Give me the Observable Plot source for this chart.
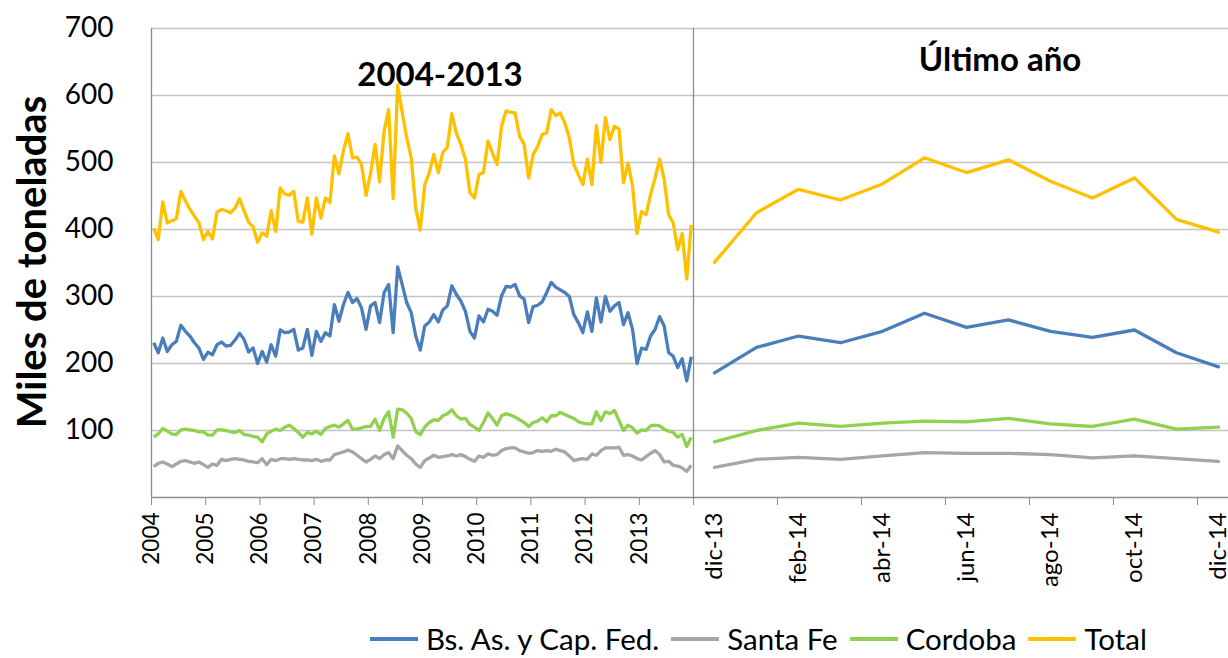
<!DOCTYPE html>
<html>
<head>
<meta charset="utf-8">
<script src="https://cdn.jsdelivr.net/npm/d3@7"></script>
<script src="https://cdn.jsdelivr.net/npm/@observablehq/plot@0.6"></script>
<style>
  html, body { margin: 0; padding: 0; background: #fff; overflow: hidden; }
  #wrap { position: relative; width: 1228px; height: 658px; overflow: hidden; font-family: Lato, "Open Sans", sans-serif; }
  #wrap svg { position: absolute; top: 0; max-width: none; }
  .ttl { position: absolute; font-weight: bold; font-size: 33px; color: #000; white-space: nowrap; transform: translateX(-50%); }
  #ylab { position: absolute; left: 31px; top: 262px; font-weight: bold; font-size: 40px; white-space: nowrap; transform: translate(-50%, -50%) rotate(-90deg); }
  #legend { position: absolute; left: 370px; top: 624px; display: flex; align-items: center; font-size: 29.5px; line-height: 30px; white-space: nowrap; }
  #legend .it { display: flex; align-items: center; margin-right: 12px; }
  #legend .sw { width: 48px; height: 4px; margin-right: 8px; }
</style>
</head>
<body>
<div id="wrap"></div>
<script>
// ---- data ----
const seriesNames = ["Bs. As. y Cap. Fed.", "Santa Fe", "Cordoba", "Total"];
const years = ["2004","2005","2006","2007","2008","2009","2010","2011","2012","2013"];
// monthly, Jan 2004 .. Dec 2013 (miles de toneladas)
const totalHist = [402,385,441,410,413,416,457,443,430,420,410,385,397,386,426,430,428,425,432,446,
  428,411,404,381,395,390,428,397,462,453,451,457,412,411,447,393,447,417,447,440,
  510,483,518,543,507,508,497,451,484,527,471,547,579,446,616,575,537,507,432,399,
  467,485,512,485,515,523,573,544,527,505,455,447,482,485,532,514,497,554,577,575,
  574,539,527,477,512,524,542,544,579,570,574,559,537,497,482,467,505,467,555,500,
  567,534,554,550,470,499,465,394,427,422,452,477,505,475,422,410,370,394,326,407];
const bsasHist = [231,216,238,218,228,233,257,248,241,231,223,206,217,213,228,232,226,227,235,245,
  236,217,223,200,218,202,228,211,250,246,247,251,220,223,251,212,248,233,246,241,
  288,263,288,306,291,297,283,251,286,291,261,306,318,246,344,318,291,276,241,220,
  256,262,273,262,280,286,316,303,293,278,248,238,271,262,281,278,272,301,315,314,
  318,301,296,261,285,287,292,306,321,314,310,306,300,273,261,246,277,248,298,262,
  300,278,286,291,258,276,251,200,223,221,241,251,270,256,216,211,194,207,174,210];
const cordobaHist = [90,95,103,99,95,94,101,102,101,100,98,98,93,93,101,101,100,98,97,100,
  94,93,91,90,83,95,99,102,100,105,108,103,97,90,97,95,99,94,103,106,
  108,105,110,115,102,102,104,106,106,117,100,118,128,90,132,131,126,118,98,94,
  105,112,116,115,122,125,131,122,117,118,109,105,100,112,126,118,108,122,125,123,
  120,116,112,106,112,114,119,113,122,122,127,124,121,118,113,111,110,110,128,115,
  128,125,130,115,100,108,104,96,101,100,107,108,107,102,99,97,90,94,76,90];
const santaFeHist = [46,51,53,50,46,50,54,55,53,51,53,49,45,50,48,57,55,57,58,57,
  56,54,53,52,58,49,57,55,58,58,57,58,57,56,56,55,57,54,56,56,
  64,66,68,71,68,63,58,53,57,62,58,64,67,58,77,70,63,58,50,45,
  55,59,63,60,61,62,64,62,64,61,57,54,62,60,65,63,64,70,73,74,
  74,70,68,66,67,70,69,70,69,72,70,68,62,55,57,58,57,65,63,70,
  74,74,74,75,63,64,62,58,56,61,66,70,64,53,54,48,47,44,39,48];
// last year, dic-13 .. dic-14
const months = ["dic-13","ene-14","feb-14","mar-14","abr-14","may-14","jun-14","jul-14","ago-14","sep-14","oct-14","nov-14","dic-14"];
const totalLast   = [351,425,460,444,468,507,485,504,472,447,477,415,396];
const bsasLast    = [186,224,241,231,248,275,254,265,248,239,250,216,195];
const cordobaLast = [83,100,111,106,111,114,113,118,110,106,117,102,105];
const santaFeLast = [45,57,60,57,62,67,66,66,64,59,62,58,54];
const yTicks = [0,100,200,300,400,500,600,700];

// ---- build tables ----
const histSeries = [bsasHist, santaFeHist, cordobaHist, totalHist];
const lastSeries = [bsasLast, santaFeLast, cordobaLast, totalLast];
const hist = histSeries.flatMap((arr, s) => arr.map((v, i) => ({series: seriesNames[s], i, v})));
const last = lastSeries.flatMap((arr, s) => arr.map((v, i) => ({series: seriesNames[s], i, v})));

const palette = ["#4A7EBB", "#A6A6A6", "#92D050", "#FFC000"];
const color = {domain: seriesNames, range: palette};
const gridC = "#C4C4C4", axisC = "#8C8C8C";
const font = "Lato, 'Open Sans', sans-serif";
const H = 600, mTop = 28, mBot = 103;

const left = Plot.plot({
  width: 700, height: H,
  marginLeft: 151, marginRight: 7, marginTop: mTop, marginBottom: mBot,
  x: {domain: [0, years.length * 12], axis: null},
  y: {domain: [0, 700], axis: null},
  color,
  style: {background: "transparent", overflow: "visible", fontFamily: font, color: "#000"},
  marks: [
    Plot.ruleY(yTicks.slice(1), {stroke: gridC, strokeWidth: 1.3}),
    Plot.axisY({ticks: yTicks.slice(1), tickSize: 0, tickPadding: 38, fontSize: 28, fill: "#000", label: null}),
    Plot.axisX({ticks: d3.range(0, years.length * 12 + 1, 12), tickSize: 8, tickPadding: 7,
      tickRotate: -90, fontSize: 22.5, stroke: axisC, fill: "#000", label: null,
      tickFormat: t => years[t / 12] ?? ""}),
    Plot.ruleY([0], {stroke: axisC, strokeWidth: 1.3}),
    Plot.ruleX([0, years.length * 12], {stroke: axisC, strokeWidth: 1.3}),
    Plot.line(hist, {x: d => d.i + 0.5, y: "v", z: "series", stroke: "series",
      strokeWidth: 3.3, strokeLinejoin: "round", strokeLinecap: "butt"})
  ]
});
left.style.left = "0px";

const right = Plot.plot({
  width: 546, height: H,
  marginLeft: 0, marginRight: 0, marginTop: mTop, marginBottom: mBot,
  x: {domain: [-0.5, months.length - 0.5], axis: null},
  y: {domain: [0, 700], axis: null},
  color,
  style: {background: "transparent", overflow: "visible", fontFamily: font, color: "#000"},
  marks: [
    Plot.ruleY(yTicks.slice(1), {stroke: gridC, strokeWidth: 1.3}),
    Plot.axisX({ticks: d3.range(0, months.length, 2), tickSize: 0, tickPadding: 15,
      tickRotate: -90, fontSize: 24, fill: "#000", label: null, tickFormat: t => months[t]}),
    Plot.axisX({ticks: d3.range(0, months.length, 2).map(t => t - 0.5), tickSize: 8,
      stroke: axisC, label: null, tickFormat: () => ""}),
    Plot.ruleY([0], {stroke: axisC, strokeWidth: 1.3}),
    Plot.line(last, {x: "i", y: "v", z: "series", stroke: "series",
      strokeWidth: 3.3, strokeLinejoin: "round"})
  ]
});
right.style.left = "693px";

const wrap = document.getElementById("wrap");
wrap.appendChild(right);
wrap.appendChild(left);

const t1 = document.createElement("div");
t1.className = "ttl"; t1.textContent = "2004-2013";
t1.style.left = "440px"; t1.style.top = "53px";
wrap.appendChild(t1);
const t2 = document.createElement("div");
t2.className = "ttl"; t2.textContent = "Último año";
t2.style.left = "1000px"; t2.style.top = "38px";
wrap.appendChild(t2);

const yl = document.createElement("div");
yl.id = "ylab"; yl.textContent = "Miles de toneladas";
wrap.appendChild(yl);

const lg = document.createElement("div");
lg.id = "legend";
seriesNames.forEach((n, k) => {
  const it = document.createElement("div"); it.className = "it";
  const sw = document.createElement("div"); sw.className = "sw"; sw.style.background = palette[k];
  const tx = document.createElement("span"); tx.textContent = n;
  it.appendChild(sw); it.appendChild(tx); lg.appendChild(it);
});
wrap.appendChild(lg);
</script>
</body>
</html>
